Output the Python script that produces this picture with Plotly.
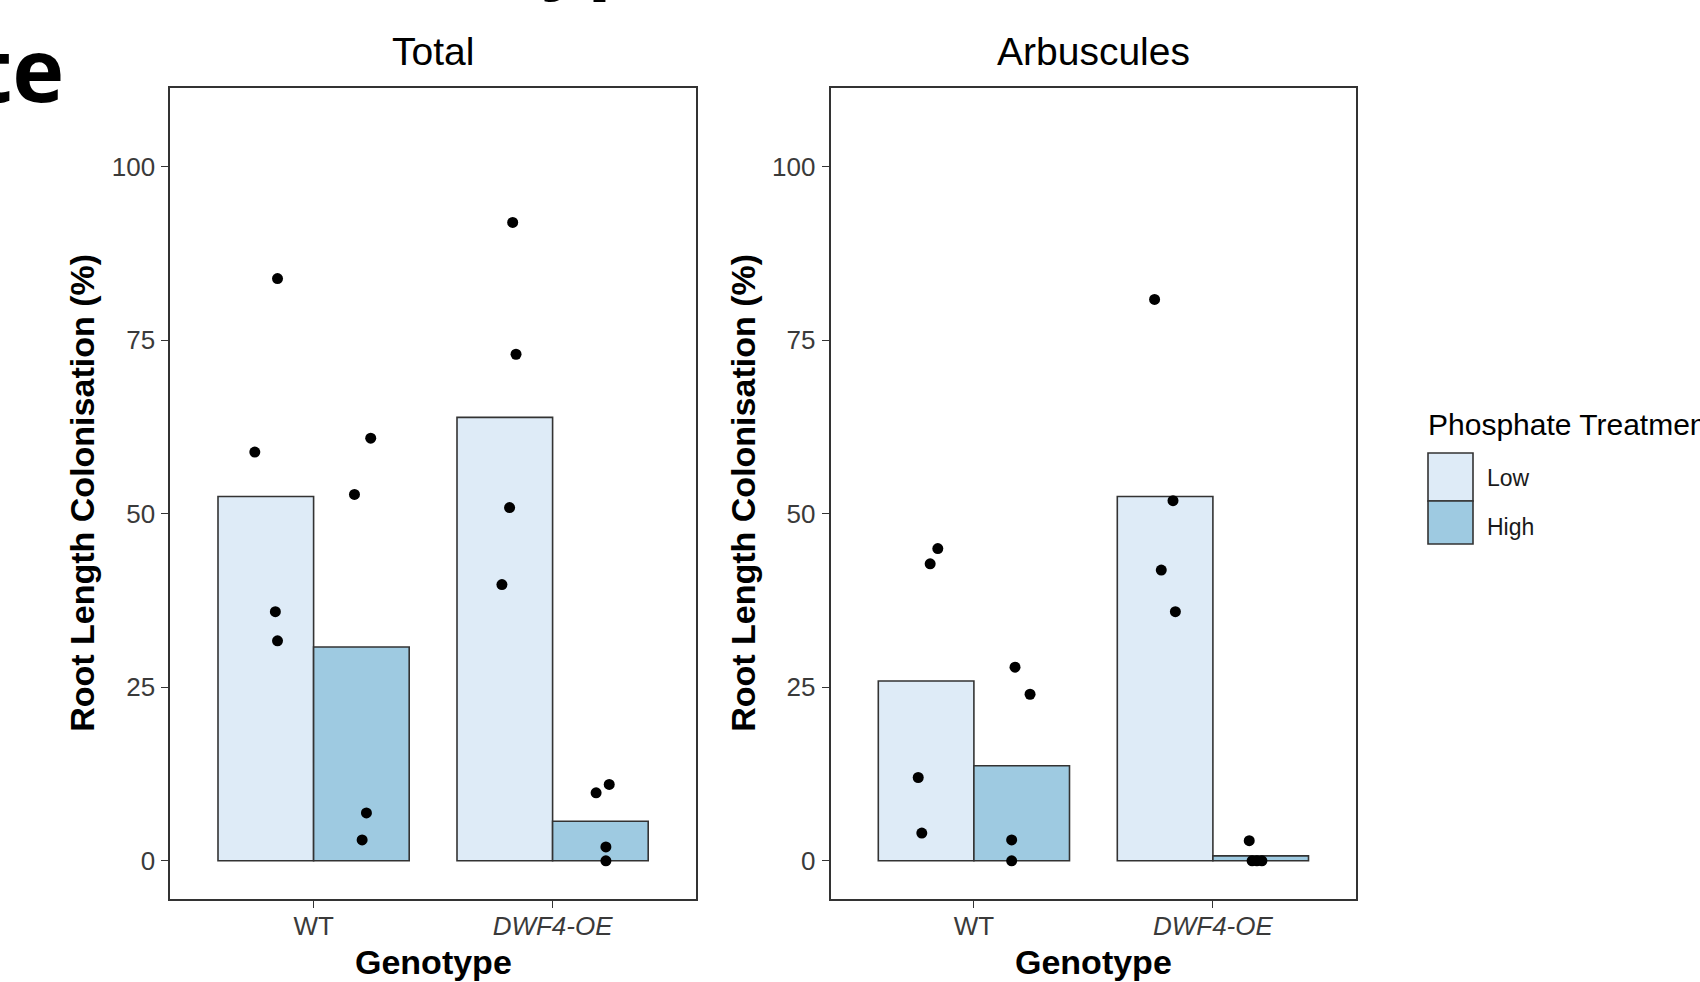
import plotly.graph_objects as go

# ---- data -------------------------------------------------------------
genotypes = ["WT", "DWF4-OE"]
genotype_ticks = ["WT", "<i>DWF4-OE</i>"]
treatments = ["Low", "High"]

# mean root length colonisation (%) per genotype, per treatment
total_low_mean = [52.5, 63.9]
total_high_mean = [30.8, 5.7]
arb_low_mean = [25.9, 52.5]
arb_high_mean = [13.7, 0.7]

# individual plants (4 per genotype x treatment)
total_low_pts = [[83.9, 58.9, 35.9, 31.7], [92.0, 73.0, 50.9, 39.8]]
total_high_pts = [[60.9, 52.8, 6.9, 3.0], [11.0, 9.8, 2.0, 0.0]]
arb_low_pts = [[45.0, 42.8, 12.0, 4.0], [80.9, 51.9, 41.9, 35.9]]
arb_high_pts = [[27.9, 24.0, 3.0, 0.0], [2.9, 0.0, 0.0, 0.0]]

# horizontal jitter of each plotted point
total_low_jit = [[0.049, -0.046, 0.040, 0.049], [0.033, 0.047, 0.020, -0.012]]
total_high_jit = [[0.039, -0.029, 0.021, 0.003], [0.037, -0.018, 0.023, 0.023]]
arb_low_jit = [[0.049, 0.017, -0.033, -0.018], [-0.044, 0.033, -0.016, 0.043]]
arb_high_jit = [[-0.028, 0.035, -0.042, -0.042], [-0.048, -0.036, -0.016, 0.005]]

y_ticks = [0, 25, 50, 75, 100]

# ---- style ------------------------------------------------------------
W, H = 1700, 982
LOW_FILL = "#deebf7"
HIGH_FILL = "#9ecae1"
EDGE = "#333333"
SANS = "Liberation Sans, Arial, sans-serif"
DODGE = 0.2


def px(x):
    return x / W


def py(y):
    return 1 - y / H


fig = go.Figure()

panels = [
    ("Total", total_low_mean, total_high_mean, total_low_pts, total_high_pts,
     total_low_jit, total_high_jit, "x", "y"),
    ("Arbuscules", arb_low_mean, arb_high_mean, arb_low_pts, arb_high_pts,
     arb_low_jit, arb_high_jit, "x2", "y2"),
]

positions = [1, 2]

for (name, lo_m, hi_m, lo_p, hi_p, lo_j, hi_j, xa, ya) in panels:
    for tr, means, fill in (("Low", lo_m, LOW_FILL), ("High", hi_m, HIGH_FILL)):
        fig.add_trace(go.Bar(
            x=positions, y=means, name=tr, marker=dict(color=fill, line=dict(color=EDGE, width=1.6)),
            xaxis=xa, yaxis=ya, showlegend=False, offsetgroup=tr,
        ))
    for pts, jit, side in ((lo_p, lo_j, -DODGE), (hi_p, hi_j, DODGE)):
        xs, ys = [], []
        for gi, pos in enumerate(positions):
            for v, j in zip(pts[gi], jit[gi]):
                xs.append(pos + side + j)
                ys.append(v)
        fig.add_trace(go.Scatter(
            x=xs, y=ys, mode="markers", xaxis=xa, yaxis=ya, showlegend=False,
            marker=dict(color="black", size=11, line=dict(width=0)),
        ))

axis_common = dict(
    showline=True, mirror=True, linecolor=EDGE, linewidth=1.6,
    ticks="outside", ticklen=7, tickwidth=1.4, tickcolor=EDGE,
    showgrid=False, zeroline=False,
    tickfont=dict(family=SANS, size=26, color="#3a3a3a"),
)

y_dom = [py(898.8), py(87.8)]
fig.update_layout(
    width=W, height=H,
    margin=dict(l=0, r=0, t=0, b=0),
    paper_bgcolor="white", plot_bgcolor="white",
    barmode="group", bargap=0.2, bargroupgap=0,
    xaxis=dict(domain=[px(170.2), px(696.0)], range=[0.4, 2.6], anchor="y",
               tickvals=positions, ticktext=genotype_ticks, ticklabelstandoff=-4, **axis_common),
    yaxis=dict(domain=y_dom, range=[-5.48, 111.4], anchor="x",
               tickvals=y_ticks, ticklabelstandoff=1, **axis_common),
    xaxis2=dict(domain=[px(830.5), px(1356.3)], range=[0.4, 2.6], anchor="y2",
                tickvals=positions, ticktext=genotype_ticks, ticklabelstandoff=-4, **axis_common),
    yaxis2=dict(domain=y_dom, range=[-5.48, 111.4], anchor="x2",
                tickvals=y_ticks, ticklabelstandoff=1, **axis_common),
)

ann = []
# panel titles and axis titles
for cx, t in ((433.1, "Total"), (1093.4, "Arbuscules")):
    ann.append(dict(text=t, x=px(cx), y=py(51.5), xref="paper", yref="paper",
                    xanchor="center", yanchor="middle", showarrow=False,
                    font=dict(family=SANS, size=39, color="black")))
    ann.append(dict(text="<b>Genotype</b>", x=px(cx), y=py(962), xref="paper", yref="paper",
                    xanchor="center", yanchor="middle", showarrow=False,
                    font=dict(family=SANS, size=34, color="black")))
for cx in (82.5, 743.5):
    ann.append(dict(text="<b>Root Length Colonisation (%)</b>", x=px(cx), y=py(493.3),
                    xref="paper", yref="paper", xanchor="center", yanchor="middle",
                    textangle=-90, showarrow=False,
                    font=dict(family=SANS, size=34, color="black")))

# legend (drawn by hand so the keys match the bar style)
ann.append(dict(text="Phosphate Treatment", x=px(1426), y=py(425), xref="paper", yref="paper",
                xanchor="left", yanchor="middle", showarrow=False,
                font=dict(family=SANS, size=30, color="black")))
shapes = []
for label, fill, top, bot, ty in (("Low", LOW_FILL, 453, 501, 478),
                                  ("High", HIGH_FILL, 501, 544, 527)):
    shapes.append(dict(type="rect", xref="paper", yref="paper",
                       x0=px(1428), x1=px(1473), y0=py(bot), y1=py(top),
                       fillcolor=fill, line=dict(color=EDGE, width=1.6)))
    ann.append(dict(text=label, x=px(1485), y=py(ty), xref="paper", yref="paper",
                    xanchor="left", yanchor="middle", showarrow=False,
                    font=dict(family=SANS, size=23, color="#1a1a1a")))

# slide heading text around the figure
ann.append(dict(text="<b>te</b>", x=px(66), y=py(68), xref="paper", yref="paper",
                xanchor="right", yanchor="middle", showarrow=False,
                font=dict(family="Open Sans", size=88, color="black")))
ann.append(dict(text="<b>typ</b>", x=px(505), y=py(8), xref="paper", yref="paper",
                xanchor="left", yanchor="bottom", showarrow=False,
                font=dict(family="Open Sans", size=80, color="black")))

fig.update_layout(annotations=ann, shapes=shapes)

fig.write_html("out.html")
